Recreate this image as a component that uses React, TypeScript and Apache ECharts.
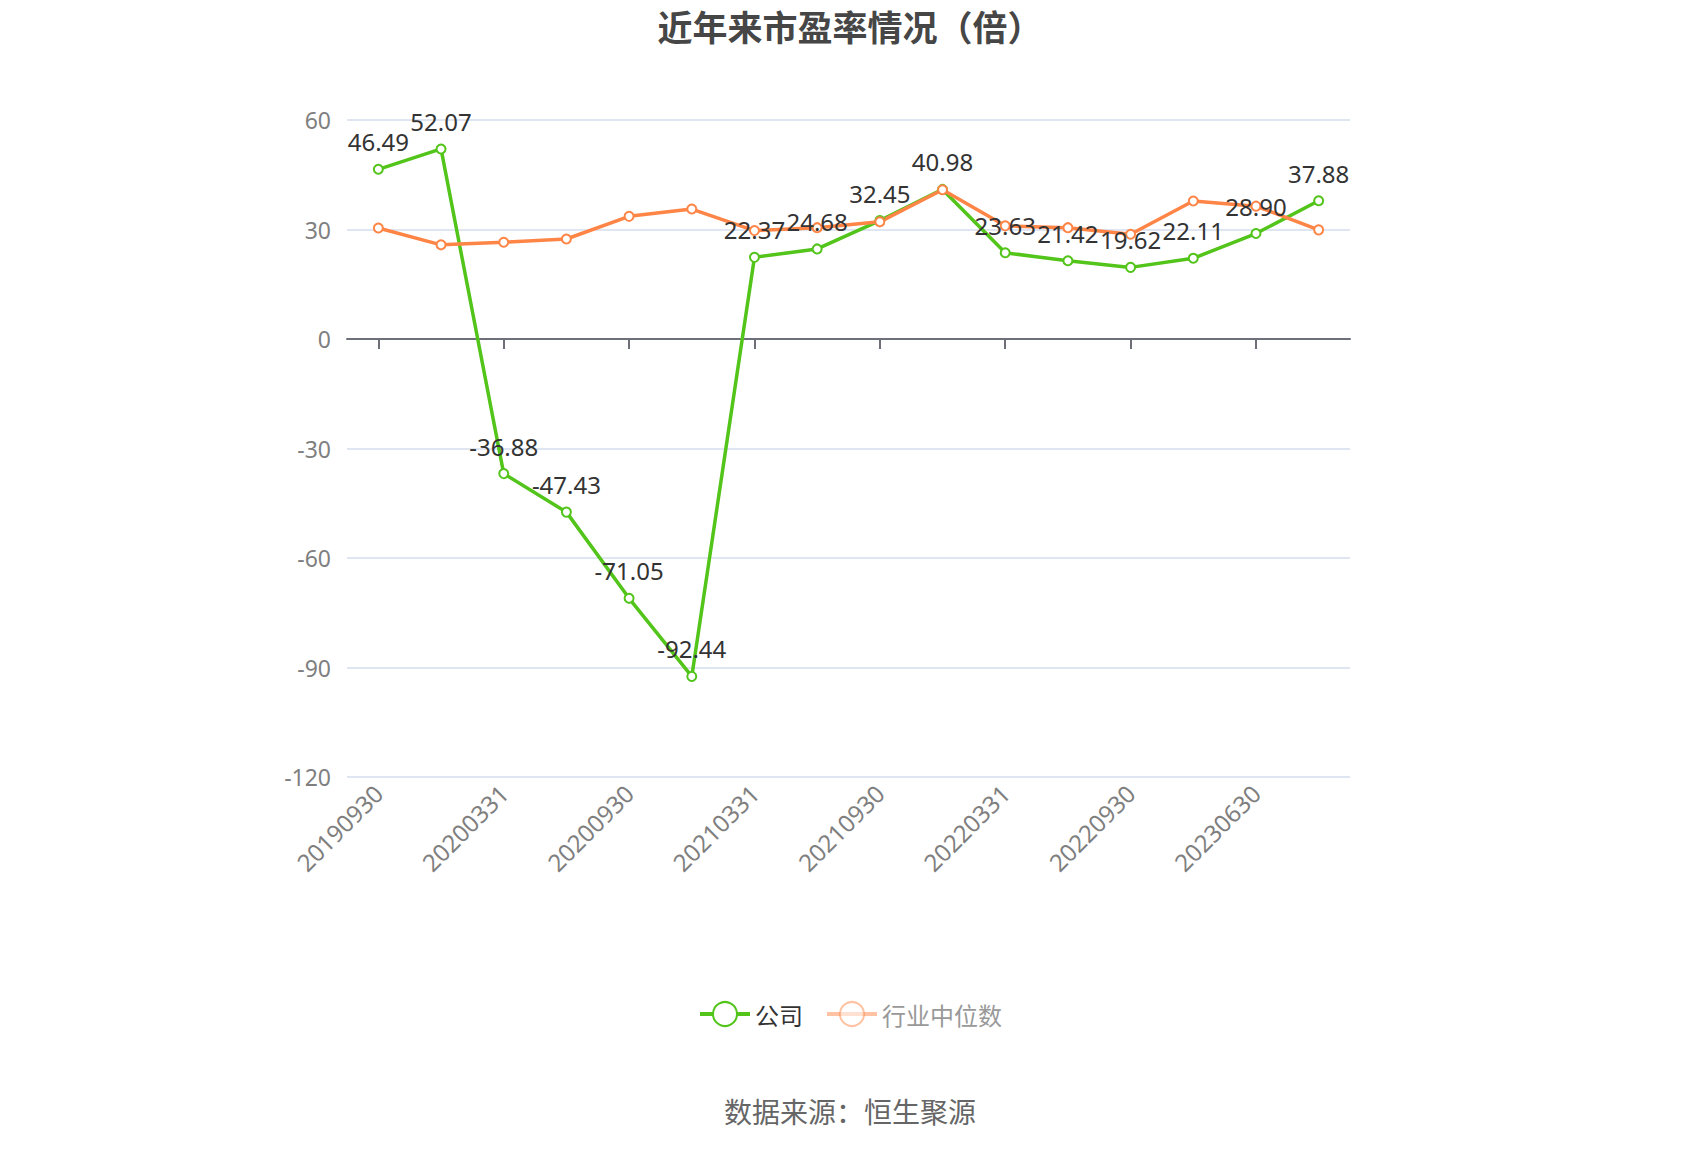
import React, { useEffect, useRef } from "react";
import * as echarts from "echarts";

const categories = [
  "20190930", "20191231", "20200331", "20200630", "20200930", "20201231",
  "20210331", "20210630", "20210930", "20211231", "20220331", "20220630",
  "20220930", "20230331", "20230630", "20230930",
];
const companyPE = [
  46.49, 52.07, -36.88, -47.43, -71.05, -92.44, 22.37, 24.68, 32.45, 40.98,
  23.63, 21.42, 19.62, 22.11, 28.9, 37.88,
];
const industryPE = [
  30.4, 25.8, 26.5, 27.4, 33.6, 35.6, 29.7, 30.5, 32.1, 40.9, 31.0, 30.5,
  28.7, 37.8, 36.4, 29.9,
];
const yTicks = { min: -120, max: 60, interval: 30 };

const FONT = '"Noto Sans CJK SC", "Noto Sans", sans-serif';
const NUM_FONT = '"Noto Sans", "Noto Sans CJK SC", sans-serif';
const GREEN = "#52C41A";
const ORANGE = "#FF8547";

export default function App() {
  const ref = useRef<HTMLDivElement>(null);
  useEffect(() => {
    document.body.style.margin = "0";
    if (!ref.current) return;
    const chart = echarts.init(ref.current, undefined, { renderer: "svg" });
    chart.setOption({
      animation: false,
      textStyle: { fontFamily: FONT },
      title: [
        {
          text: "近年来市盈率情况（倍）",
          left: "center",
          top: 3,
          textStyle: { fontSize: 35, fontWeight: "bold", color: "#464646", fontFamily: FONT },
        },
        {
          text: "数据来源：恒生聚源",
          left: "center",
          top: 1092,
          textStyle: { fontSize: 28, fontWeight: "normal", color: "#666", fontFamily: FONT },
        },
      ],
      legend: {
        left: "center",
        top: 996,
        itemWidth: 50,
        itemHeight: 30,
        itemGap: 22,
        textStyle: { fontSize: 24, fontFamily: FONT },
        data: [
          {
            name: "公司",
            textStyle: { color: "#333" },
            lineStyle: { width: 4 },
            itemStyle: { borderWidth: 4 },
          },
          {
            name: "行业中位数",
            itemStyle: { opacity: 0.5, borderWidth: 4 },
            lineStyle: { opacity: 0.5, width: 4 },
            textStyle: { color: "#999" },
          },
        ],
      },
      grid: { left: 347, right: 350, top: 120, bottom: 373, containLabel: false },
      xAxis: [
        {
          type: "category",
          data: categories,
          boundaryGap: true,
          axisLine: { onZero: true, lineStyle: { color: "#6E7079", width: 2 } },
          axisTick: {
            show: true,
            alignWithLabel: true,
            interval: 1,
            length: 10,
            lineStyle: { color: "#6E7079", width: 2 },
          },
          axisLabel: { show: true, interval: 1, color: "rgba(0,0,0,0)", fontSize: 1 },
        },
        {
          type: "category",
          data: categories,
          boundaryGap: true,
          position: "bottom",
          axisLine: { show: false, onZero: false },
          axisTick: { show: false },
          axisLabel: {
            interval: 1,
            rotate: 45,
            fontSize: 24,
            color: "#7f7f7f",
            margin: 12,
            fontFamily: NUM_FONT,
          },
        },
      ],
      yAxis: {
        type: "value",
        min: yTicks.min,
        max: yTicks.max,
        interval: yTicks.interval,
        axisLine: { show: false },
        axisTick: { show: false },
        axisLabel: { fontSize: 23, color: "#7f7f7f", margin: 16, fontFamily: NUM_FONT },
        splitLine: { lineStyle: { color: "#E0E6F1", width: 2 } },
      },
      series: [
        {
          name: "公司",
          type: "line",
          xAxisIndex: 0,
          data: companyPE,
          symbol: "emptyCircle",
          symbolSize: 9,
          lineStyle: { color: GREEN, width: 3.5 },
          itemStyle: { color: GREEN, borderWidth: 2.5 },
          label: {
            show: true,
            position: "top",
            distance: 10,
            fontSize: 24,
            color: "#333",
            fontFamily: NUM_FONT,
            formatter: (p: any) => Number(p.value).toFixed(2),
          },
        },
        {
          name: "行业中位数",
          type: "line",
          xAxisIndex: 0,
          data: industryPE,
          symbol: "emptyCircle",
          symbolSize: 9,
          lineStyle: { color: ORANGE, width: 3.5 },
          itemStyle: { color: ORANGE, borderWidth: 2.5 },
          label: { show: false },
        },
      ],
    });
    return () => chart.dispose();
  }, []);
  return <div ref={ref} style={{ width: 1700, height: 1150 }} />;
}
